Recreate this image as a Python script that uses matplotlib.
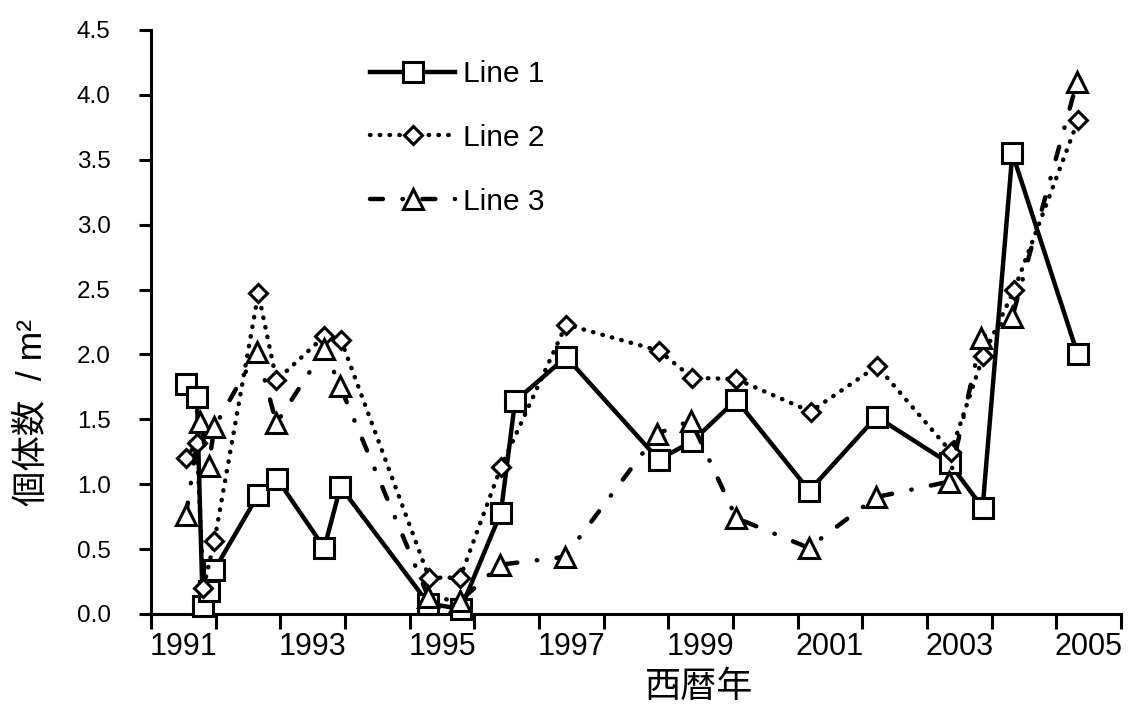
import matplotlib
matplotlib.use('Agg')
import matplotlib.pyplot as plt
import numpy as np

plt.rcParams['font.family'] = ['Liberation Sans', 'Noto Sans CJK JP', 'DejaVu Sans']

# ---- data ----
x1 = [1991.54, 1991.71, 1991.80, 1991.89, 1991.98, 1992.66, 1992.95, 1993.68, 1993.93,
      1995.29, 1995.79, 1996.41, 1996.63, 1997.42, 1998.85, 1999.37, 2000.05, 2001.18,
      2002.22, 2003.35, 2003.86, 2004.32, 2005.33]
y1 = [1.77, 1.67, 0.06, 0.18, 0.34, 0.92, 1.04, 0.51, 0.98,
      0.08, 0.04, 0.78, 1.64, 1.98, 1.19, 1.33, 1.65, 0.95,
      1.52, 1.16, 0.82, 3.55, 2.00]

x2 = [1991.54, 1991.71, 1991.81, 1991.98, 1992.66, 1992.94, 1993.68, 1993.94,
      1995.30, 1995.78, 1996.41, 1997.42, 1998.85, 1999.37, 2000.05, 2001.20,
      2002.23, 2003.37, 2003.87, 2004.35, 2005.34]
y2 = [1.20, 1.32, 0.20, 0.56, 2.47, 1.80, 2.14, 2.11,
      0.28, 0.28, 1.13, 2.23, 2.03, 1.82, 1.81, 1.56,
      1.91, 1.25, 1.99, 2.50, 3.81]

x3 = [1991.54, 1991.76, 1991.89, 1991.98, 1992.64, 1992.94, 1993.68, 1993.92,
      1995.29, 1995.78, 1996.40, 1997.40, 1998.83, 1999.35, 2000.05, 2001.17,
      2002.21, 2003.34, 2003.84, 2004.32, 2005.32]
y3 = [0.76, 1.48, 1.14, 1.44, 2.02, 1.47, 2.04, 1.76,
      0.13, 0.10, 0.38, 0.44, 1.39, 1.49, 0.74, 0.51,
      0.90, 1.02, 2.13, 2.29, 4.10]

series_names = ['Line 1', 'Line 2', 'Line 3']
year_ticks = list(range(1991, 2007))
year_labels = ['1991', '1993', '1995', '1997', '1999', '2001', '2003', '2005']
y_ticks = [0.0, 0.5, 1.0, 1.5, 2.0, 2.5, 3.0, 3.5, 4.0, 4.5]
x_title = '西暦年'
y_title = '個体数  / m²'

# ---- figure ----
W, H = 1133, 707
fig = plt.figure(figsize=(W / 100, H / 100), dpi=100)
ax = fig.add_axes([151 / W, 1 - 614 / H, 970 / W, 584 / H])
ax.set_xlim(1991, 2006)
ax.set_ylim(0, 4.5)

for s in ['top', 'right']:
    ax.spines[s].set_visible(False)
for s in ['left', 'bottom']:
    ax.spines[s].set_linewidth(2.2)

lw = 3.2
common = dict(color='black', lw=lw, mfc='white', mec='black', mew=2.2, clip_on=False)
ax.plot(x1, y1, marker='s', ms=15, zorder=3, label=series_names[0], **common)
ax.plot(x2, y2, marker='D', ms=9.5, ls=(0, (0.1, 2.1)), dash_capstyle='round',
        zorder=4, label=series_names[1], **common)
ax.plot(x3, y3, marker='^', ms=14, ls=(0, (2.9, 4.4, 0.1, 4.4)), dash_capstyle='round',
        zorder=5, label=series_names[2], **common)

# x axis: a tick at every year boundary, labels centred in odd years
ax.set_xticks(year_ticks)
ax.set_xticklabels([])
ax.set_xticks([int(y) + 0.5 for y in year_labels], minor=True)
ax.set_xticklabels(year_labels, minor=True)
ax.tick_params(axis='x', which='major', direction='out', length=11, width=2.2)
ax.tick_params(axis='x', which='minor', length=0, pad=13, labelsize=22)

ax.set_yticks(y_ticks)
ax.set_yticklabels([f'{v:.1f}' for v in y_ticks])
ax.tick_params(axis='y', direction='out', length=9, width=2.2, pad=20, labelsize=17.5)

ax.set_xlabel(x_title, fontsize=26, va='center')
ax.xaxis.set_label_coords((699 - 151) / 970, (614 - 687) / 584)
ax.set_ylabel(y_title, fontsize=25.5, va='center')
ax.yaxis.set_label_coords((32 - 151) / 970, (614 - 412) / 584)

leg = ax.legend(loc='upper left', bbox_to_anchor=(370 / W, 1 - 60 / H),
                bbox_transform=fig.transFigure, frameon=False, fontsize=21.5,
                handlelength=2.85, handletextpad=0.25, labelspacing=1.2,
                borderpad=0, borderaxespad=0)

fig.savefig('out.png', dpi=100)
